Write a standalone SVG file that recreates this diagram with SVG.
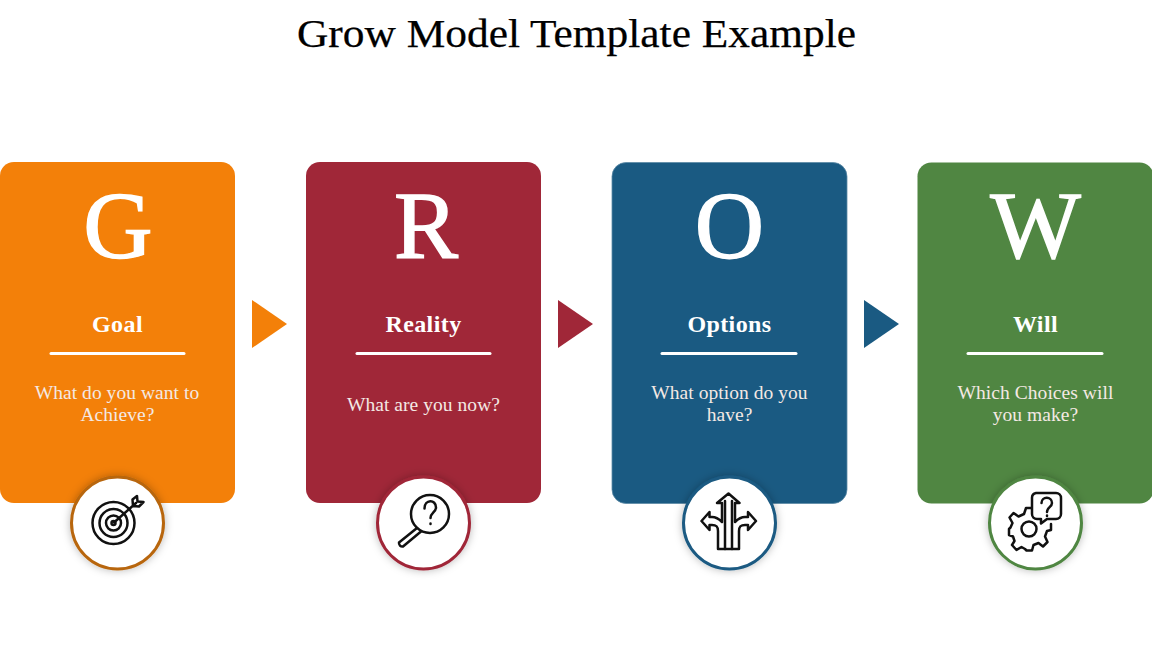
<svg xmlns="http://www.w3.org/2000/svg" width="1152" height="648" viewBox="0 0 1152 648">
<style>
text{font-family:"Liberation Serif","DejaVu Serif",serif;text-anchor:middle}
.title{font-size:39px;fill:#000;stroke:#000;stroke-width:.25}
.big{font-size:96px;fill:#fff;stroke:#fff;stroke-width:1.4}
.head{font-size:24px;font-weight:bold;fill:#fff;letter-spacing:.4px}
.body{font-size:19.500px;fill:#f4e9e4;letter-spacing:.05px}
.rule{stroke:#fff;stroke-width:3;stroke-linecap:round}
.badge{fill:#fff;stroke-width:3;filter:url(#sh)}
.ic{fill:none;stroke:#111;stroke-width:2.500;stroke-linecap:round;stroke-linejoin:round}
</style>
<defs>
<filter id="sh" x="-30%" y="-30%" width="160%" height="160%"><feDropShadow dx="0" dy="0" stdDeviation="4" flood-color="#000" flood-opacity=".28"/></filter>
</defs>
<rect width="1152" height="648" fill="#fff"/>
<text class="title" x="576.500" y="47" textLength="559" lengthAdjust="spacingAndGlyphs">Grow Model Template Example</text>
<g id="connectors">
<polygon points="252,300 287,324 252,348" fill="#F38009"/>
<polygon points="558,300 593,324 558,348" fill="#A02738"/>
<polygon points="864,300 899,324 864,348" fill="#1A5A82"/>
</g>
<g id="node-goal">
<rect x="0" y="162" width="235" height="341" rx="14" fill="#F38009"/>
<text class="big" x="118" y="258">G</text>
<text class="head" x="117.500" y="332">Goal</text>
<line class="rule" x1="51" y1="353.500" x2="184" y2="353.500"/>
<text class="body" x="117" y="399">What do you want to</text>
<text class="body" x="117.500" y="421">Achieve?</text>
<circle class="badge" cx="117.500" cy="523" r="46" stroke="#B8660F"/>
<g class="ic">
<circle cx="113.500" cy="523" r="21"/>
<circle cx="113.500" cy="523" r="14"/>
<circle cx="113.500" cy="523" r="7.500"/>
<circle cx="113.500" cy="523" r="2"/>
<path d="M114 522.500L136 503M133 506L132.500 499.500L137 496L137.500 501.500L143.500 502L139 506.500Z"/>
</g>
</g>
<g id="node-reality">
<rect x="306" y="162" width="235" height="341" rx="14" fill="#A02738"/>
<text class="big" x="426" y="258">R</text>
<text class="head" x="423.500" y="332">Reality</text>
<line class="rule" x1="357" y1="353.500" x2="490" y2="353.500"/>
<text class="body" x="423.500" y="411">What are you now?</text>
<circle class="badge" cx="423.500" cy="523" r="46" stroke="#A02738"/>
<g class="ic">
<circle cx="430" cy="514" r="19"/>
<path d="M417 528L399 542.500A3.500 3.500 0 0 0 403 546.500L421 531.500"/>
<path d="M424.500 508.500C424.500 499 436 499 436 507.500C436 512 430.500 513 430.500 518"/>
<path d="M430.500 523.500v.5"/>
</g>
</g>
<g id="node-options">
<rect x="612" y="162.500" width="235" height="341" rx="14" fill="#1A5A82" stroke="#5d8aa6" stroke-width=".8"/>
<text class="big" x="729.500" y="258">O</text>
<text class="head" x="729.500" y="332">Options</text>
<line class="rule" x1="662" y1="353.500" x2="796" y2="353.500"/>
<text class="body" x="729.500" y="399">What option do you</text>
<text class="body" x="729.500" y="421">have?</text>
<circle class="badge" cx="729.500" cy="523" r="46" stroke="#1A5A82"/>
<g class="ic">
<path d="M718 549V531C718 526 716 525 712 525H709.500V530L701.500 521L709.500 512V517H712C716 517 719 519 722 522V503H717L728.500 493.500L739.500 503H735V522C738 519 741 517 745 517H748V512L756 521L748 530V525H745C741 525 739 526 739 531V549Z"/>
<path d="M725 501V549M732 501V549"/>
</g>
</g>
<g id="node-will">
<rect x="917.500" y="162.500" width="236" height="341" rx="14" fill="#508642"/>
<text class="big" x="1035.500" y="258">W</text>
<text class="head" x="1035.500" y="332">Will</text>
<line class="rule" x1="968" y1="353.500" x2="1102" y2="353.500"/>
<text class="body" x="1035.500" y="399">Which Choices will</text>
<text class="body" x="1035.500" y="421">you make?</text>
<circle class="badge" cx="1035.500" cy="523" r="46" stroke="#508642"/>
<g class="ic">
<circle cx="1029" cy="529" r="7.500"/>
<path d="M1031 508H1026L1024 514L1018.500 516.500L1013.500 513L1009.500 517.500L1012.500 523L1010.500 527.500L1009 529V535L1013 536.500L1014.500 541L1012 545L1016.500 550L1021.500 547L1025 549L1026.500 550.500H1032L1033.500 545L1038.500 543L1043 546.500L1047.500 542L1045 536.500L1047 531L1051 530V524"/>
<path d="M1036 493H1056A5 5 0 0 1 1061 498V514A5 5 0 0 1 1056 519H1047L1041 523.500V519H1037A5 5 0 0 1 1032 514V498A5 5 0 0 1 1036 493Z"/>
<path d="M1041.500 503C1041.500 496 1052 496 1052 503C1052 507 1047 507.500 1047 512"/>
<path d="M1047 515.500v.5"/>
</g>
</g>
</svg>
